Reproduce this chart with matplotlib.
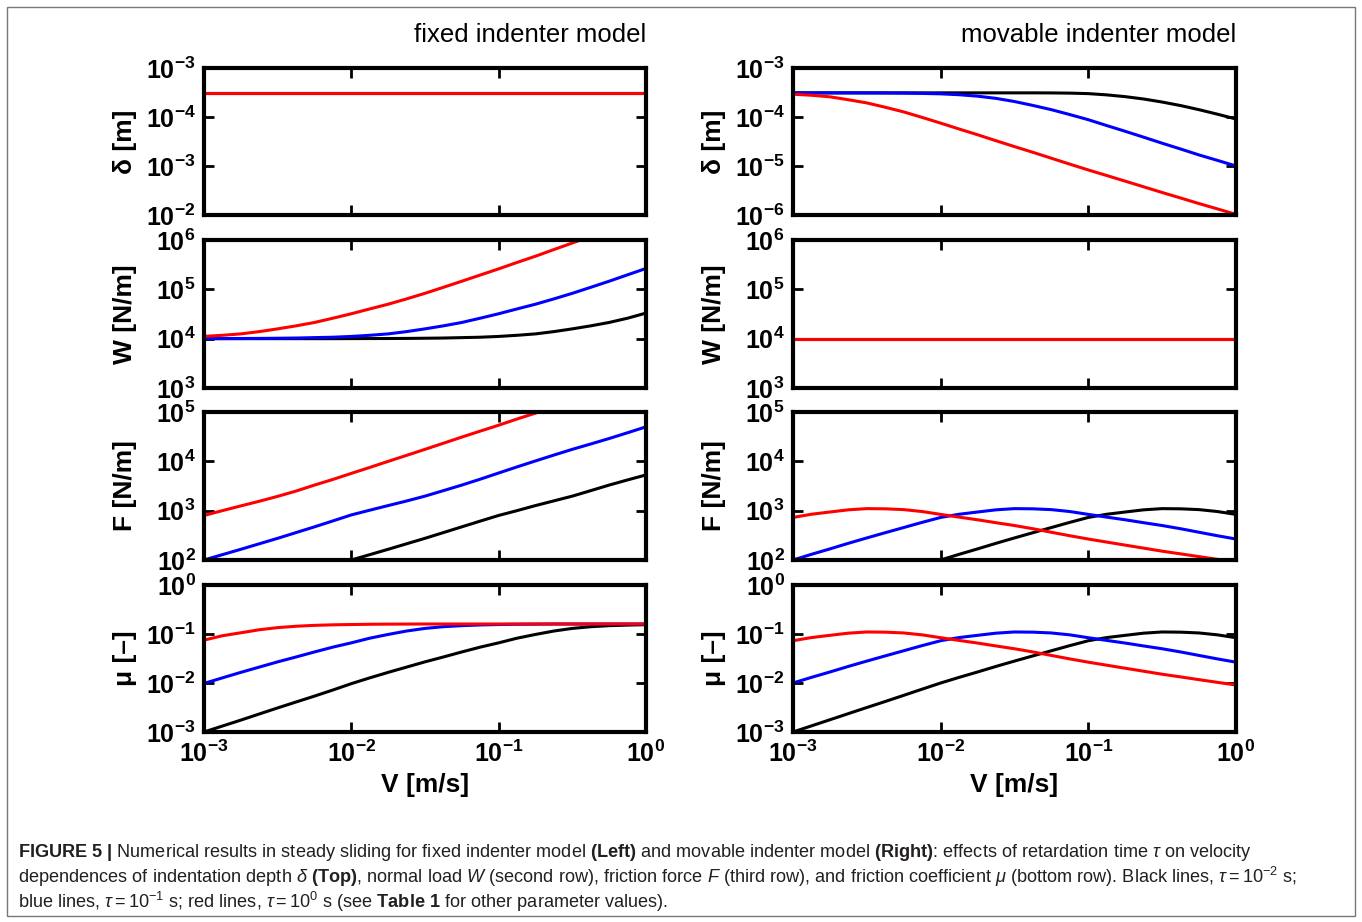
import math

import matplotlib
matplotlib.use("Agg")
import matplotlib.pyplot as plt
from matplotlib import font_manager
from matplotlib.patches import Rectangle
from matplotlib.ticker import FixedLocator, FixedFormatter, NullLocator

# velocity grid [m/s], eighth of a decade
V = [1e-3, 1.33e-3, 1.78e-3, 2.37e-3, 3.16e-3, 4.22e-3, 5.62e-3, 7.50e-3,
     1e-2, 1.33e-2, 1.78e-2, 2.37e-2, 3.16e-2, 4.22e-2, 5.62e-2, 7.50e-2,
     1e-1, 0.133, 0.178, 0.237, 0.316, 0.422, 0.562, 0.750, 1.0]

# fixed indenter model (left column) -- black tau=1e-2, blue 1e-1, red 1e0
delta_fix_black = [3.11e-4, 3.11e-4, 3.11e-4, 3.11e-4, 3.11e-4, 3.11e-4, 3.11e-4, 3.11e-4,
                   3.11e-4, 3.11e-4, 3.11e-4, 3.11e-4, 3.11e-4, 3.11e-4, 3.11e-4, 3.11e-4,
                   3.11e-4, 3.11e-4, 3.11e-4, 3.11e-4, 3.11e-4, 3.11e-4, 3.11e-4, 3.11e-4,
                   3.11e-4]
delta_fix_blue = list(delta_fix_black)
delta_fix_red = list(delta_fix_black)

W_fix_black = [1e4, 1e4, 1e4, 1e4, 1e4, 1e4, 1e4, 1e4,
               1.003e4, 1.005e4, 1.008e4, 1.012e4, 1.02e4, 1.03e4, 1.05e4, 1.07e4,
               1.11e4, 1.17e4, 1.25e4, 1.39e4, 1.58e4, 1.82e4, 2.13e4, 2.6e4, 3.3e4]
W_fix_blue = [1.003e4, 1.005e4, 1.008e4, 1.012e4, 1.02e4, 1.03e4, 1.05e4, 1.07e4,
              1.11e4, 1.17e4, 1.25e4, 1.39e4, 1.58e4, 1.82e4, 2.13e4, 2.6e4,
              3.2e4, 4.0e4, 5.0e4, 6.4e4, 8.3e4, 1.1e5, 1.46e5, 1.97e5, 2.65e5]
W_fix_red = [1.11e4, 1.17e4, 1.25e4, 1.39e4, 1.58e4, 1.82e4, 2.13e4, 2.6e4,
             3.2e4, 4.0e4, 5.0e4, 6.4e4, 8.3e4, 1.1e5, 1.46e5, 1.95e5,
             2.6e5, 3.5e5, 4.7e5, 6.4e5, 8.7e5, 1.18e6, 1.6e6, 2.15e6, 2.9e6]

F_fix_black = [10, 13, 17, 22, 29, 39, 52, 72,
               100, 128, 165, 213, 275, 360, 470, 615,
               800, 1.0e3, 1.27e3, 1.58e3, 1.97e3, 2.55e3, 3.3e3, 4.2e3, 5.3e3]
F_fix_blue = [1.0e2, 1.28e2, 1.65e2, 2.13e2, 2.75e2, 3.6e2, 4.7e2, 6.2e2,
              8.2e2, 1.02e3, 1.27e3, 1.57e3, 1.97e3, 2.55e3, 3.3e3, 4.35e3,
              5.8e3, 7.7e3, 1.02e4, 1.34e4, 1.75e4, 2.25e4, 2.9e4, 3.8e4, 5.0e4]
F_fix_red = [8.0e2, 1.0e3, 1.25e3, 1.55e3, 1.95e3, 2.5e3, 3.3e3, 4.3e3,
             5.7e3, 7.5e3, 1.0e4, 1.32e4, 1.75e4, 2.33e4, 3.1e4, 4.1e4,
             5.4e4, 7.2e4, 9.5e4, 1.27e5, 1.7e5, 2.25e5, 3.0e5, 4.0e5, 5.4e5]

mu_fix_black = [0.001, 0.00132, 0.00175, 0.00233, 0.0031, 0.0041, 0.0054, 0.0072,
                0.0097, 0.0127, 0.0165, 0.0211, 0.027, 0.034, 0.043, 0.054,
                0.066, 0.082, 0.098, 0.115, 0.13, 0.141, 0.148, 0.152, 0.155]
mu_fix_blue = [0.0098, 0.0127, 0.0165, 0.0211, 0.027, 0.034, 0.043, 0.054,
               0.066, 0.082, 0.098, 0.115, 0.13, 0.141, 0.148, 0.153,
               0.156, 0.158, 0.159, 0.16, 0.16, 0.16, 0.16, 0.16, 0.16]
mu_fix_red = [0.075, 0.092, 0.106, 0.122, 0.135, 0.144, 0.150, 0.154,
              0.156, 0.158, 0.159, 0.1595, 0.16, 0.16, 0.16, 0.16,
              0.16, 0.16, 0.16, 0.16, 0.16, 0.16, 0.16, 0.16, 0.16]

# movable indenter model (right column)
delta_mov_black = [3.11e-4, 3.11e-4, 3.11e-4, 3.11e-4, 3.11e-4, 3.11e-4, 3.11e-4, 3.11e-4,
                   3.11e-4, 3.11e-4, 3.11e-4, 3.11e-4, 3.11e-4, 3.11e-4, 3.1e-4, 3.07e-4,
                   3.0e-4, 2.83e-4, 2.6e-4, 2.33e-4, 2.02e-4, 1.71e-4, 1.41e-4, 1.14e-4, 9.1e-5]
delta_mov_blue = [3.11e-4, 3.11e-4, 3.11e-4, 3.11e-4, 3.1e-4, 3.09e-4, 3.07e-4, 3.03e-4,
                  2.97e-4, 2.85e-4, 2.66e-4, 2.4e-4, 2.07e-4, 1.72e-4, 1.41e-4, 1.12e-4,
                  8.8e-5, 6.7e-5, 5.1e-5, 3.87e-5, 2.92e-5, 2.22e-5, 1.68e-5, 1.3e-5, 1.0e-5]
delta_mov_red = [2.92e-4, 2.78e-4, 2.58e-4, 2.25e-4, 1.94e-4, 1.58e-4, 1.27e-4, 9.8e-5,
                 7.5e-5, 5.7e-5, 4.34e-5, 3.28e-5, 2.49e-5, 1.9e-5, 1.44e-5, 1.09e-5,
                 8.3e-6, 6.4e-6, 4.9e-6, 3.76e-6, 2.88e-6, 2.22e-6, 1.71e-6, 1.33e-6, 1.03e-6]

W_mov_black = [1e4, 1e4, 1e4, 1e4, 1e4, 1e4, 1e4, 1e4, 1e4, 1e4, 1e4, 1e4, 1e4,
               1e4, 1e4, 1e4, 1e4, 1e4, 1e4, 1e4, 1e4, 1e4, 1e4, 1e4, 1e4]
W_mov_blue = list(W_mov_black)
W_mov_red = list(W_mov_black)

F_mov_black = [10, 13.3, 17.8, 23.7, 31.6, 42, 56, 75,
               100, 130, 168, 218, 280, 358, 455, 580,
               729, 845, 940, 1040, 1100, 1090, 1050, 960, 840]
F_mov_blue = [100, 130, 168, 218, 280, 358, 455, 580,
              729, 845, 940, 1040, 1100, 1090, 1050, 960,
              840, 740, 653, 570, 500, 430, 365, 310, 266]
F_mov_red = [729, 845, 940, 1040, 1100, 1090, 1050, 960,
             840, 740, 653, 570, 500, 430, 365, 310,
             266, 231, 200, 174, 151, 133, 117, 103, 91]

mu_mov_black = [0.0010, 0.00133, 0.00178, 0.00237, 0.00316, 0.0042, 0.0056, 0.0075,
                0.0100, 0.0130, 0.0168, 0.0218, 0.0280, 0.0358, 0.0455, 0.058,
                0.0729, 0.0845, 0.094, 0.104, 0.110, 0.109, 0.105, 0.096, 0.084]
mu_mov_blue = [0.0100, 0.0130, 0.0168, 0.0218, 0.0280, 0.0358, 0.0455, 0.058,
               0.0729, 0.0845, 0.094, 0.104, 0.110, 0.109, 0.105, 0.096,
               0.084, 0.074, 0.0653, 0.057, 0.050, 0.043, 0.0365, 0.031, 0.0266]
mu_mov_red = [0.0729, 0.0845, 0.094, 0.104, 0.110, 0.109, 0.105, 0.096,
              0.084, 0.074, 0.0653, 0.057, 0.050, 0.043, 0.0365, 0.031,
              0.0266, 0.0231, 0.020, 0.0174, 0.0151, 0.0133, 0.0117, 0.0103, 0.0091]

titles = ["fixed indenter model", "movable indenter model"]
ylabels = ["δ [m]", "W [N/m]", "F [N/m]", "μ [–]"]
ylims = [(1e-6, 1e-3), (1e3, 1e6), (1e2, 1e5), (1e-3, 1e0)]
# the left δ axis carries these labels in the original figure
delta_fix_ticklabels = ["10^{-2}", "10^{-3}", "10^{-4}", "10^{-3}"]
xtick_labels = ["10^{-3}", "10^{-2}", "10^{-1}", "10^{0}"]

columns = [
    [(delta_fix_black, delta_fix_blue, delta_fix_red),
     (W_fix_black, W_fix_blue, W_fix_red),
     (F_fix_black, F_fix_blue, F_fix_red),
     (mu_fix_black, mu_fix_blue, mu_fix_red)],
    [(delta_mov_black, delta_mov_blue, delta_mov_red),
     (W_mov_black, W_mov_blue, W_mov_red),
     (F_mov_black, F_mov_blue, F_mov_red),
     (mu_mov_black, mu_mov_blue, mu_mov_red)],
]
colors = ["black", "blue", "red"]

names = {f.name for f in font_manager.fontManager.ttflist}
NARROW = "Liberation Sans Narrow" if "Liberation Sans Narrow" in names else "Liberation Sans"
SANS = "Liberation Sans"

plt.rcParams["mathtext.fontset"] = "custom"
plt.rcParams["mathtext.rm"] = NARROW
plt.rcParams["mathtext.it"] = NARROW + ":italic"
plt.rcParams["mathtext.bf"] = NARROW + ":bold"
plt.rcParams["font.family"] = [SANS, "DejaVu Sans"]

W_PX, H_PX = 1362, 922
fig = plt.figure(figsize=(W_PX / 100, H_PX / 100), dpi=100)
fig.patch.set_facecolor("white")


def fx(px):
    return px / W_PX


def fy(py):
    return 1 - py / H_PX


col_x = [(204, 646), (793, 1236)]
row_y = [(68, 215), (240, 388), (412, 560), (585, 732)]
ylabel_x = [125, 714]

for c, (x0, x1) in enumerate(col_x):
    for r, (y0, y1) in enumerate(row_y):
        ax = fig.add_axes([fx(x0), fy(y1), fx(x1 - x0), (y1 - y0) / H_PX])
        for series, col in zip(columns[c][r], colors):
            ax.plot(V, series, color=col, lw=2.2, solid_capstyle="butt")
        ax.set_xscale("log")
        ax.set_yscale("log")
        ax.set_xlim(1e-3, 1.0)
        ax.set_ylim(*ylims[r])
        lo, hi = ylims[r]
        e0, e1 = int(round(math.log10(lo))), int(round(math.log10(hi)))
        yt = [10.0 ** e for e in range(e0, e1 + 1)]
        if c == 0 and r == 0:
            ylab = [r"$\mathbf{%s}$" % s for s in delta_fix_ticklabels]
        else:
            ylab = [r"$\mathbf{10^{%d}}$" % e for e in range(e0, e1 + 1)]
        ax.yaxis.set_major_locator(FixedLocator(yt))
        ax.yaxis.set_major_formatter(FixedFormatter(ylab))
        ax.yaxis.set_minor_locator(NullLocator())
        ax.xaxis.set_major_locator(FixedLocator([1e-3, 1e-2, 1e-1, 1.0]))
        ax.xaxis.set_minor_locator(NullLocator())
        if r == 3:
            ax.xaxis.set_major_formatter(
                FixedFormatter([r"$\mathbf{%s}$" % s for s in xtick_labels]))
        else:
            ax.xaxis.set_major_formatter(FixedFormatter(["", "", "", ""]))
        ax.tick_params(which="major", direction="in", length=7, width=2,
                       top=True, right=True, labelsize=18, pad=6)
        for sp in ax.spines.values():
            sp.set_linewidth(3)
        fig.text(fx(ylabel_x[c]), fy((y0 + y1) / 2), ylabels[r], rotation=90,
                 ha="center", va="center", fontsize=19, fontweight="bold",
                 family=[SANS, "DejaVu Sans"])
    fig.text(fx(x1), fy(35), titles[c], ha="right", va="center",
             fontsize=22 if NARROW != SANS else 18.5, family=[NARROW, "DejaVu Sans"])
    fig.text(fx((x0 + x1) / 2), fy(785), "V [m/s]", ha="center", va="center",
             fontsize=19, fontweight="bold", family=[SANS, "DejaVu Sans"])

caption = [
    r"$\mathbf{FIGURE\ 5\ |}$ Numerical results in steady sliding for fixed indenter model "
    r"$\mathbf{(Left)}$ and movable indenter model $\mathbf{(Right)}$: effects of retardation "
    r"time $\tau$ on velocity",
    r"dependences of indentation depth $\delta$ $\mathbf{(Top)}$, normal load $W$ (second row), "
    r"friction force $F$ (third row), and friction coefficient $\mu$ (bottom row). Black lines, "
    r"$\tau = 10^{-2}$ s;",
    r"blue lines, $\tau = 10^{-1}$ s; red lines, $\tau = 10^{0}$ s (see $\mathbf{Table\ 1}$ "
    r"for other parameter values).",
]
for i, line in enumerate(caption):
    fig.text(fx(18), fy(852 + 25 * i), line, ha="left", va="center", fontsize=13.1,
             color="#231f20", family=[NARROW, "DejaVu Sans"])

fig.patches.append(Rectangle((fx(7), fy(916)), fx(1355 - 7), (916 - 7) / H_PX,
                             transform=fig.transFigure, fill=False,
                             edgecolor="#777777", lw=1))

fig.savefig("out.png", dpi=100)
